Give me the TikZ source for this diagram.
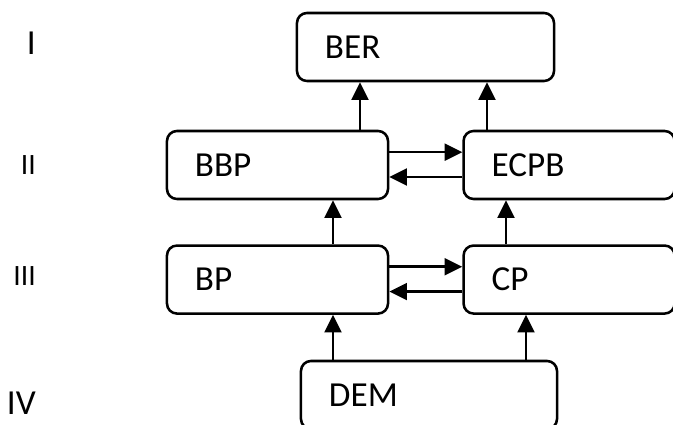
\documentclass[tikz,border=0pt]{standalone}
\usepackage{fontspec}
\setmainfont{Carlito}
\usetikzlibrary{arrows.meta, positioning}
\tikzset{block/.style={draw, rounded corners=0.25cm, minimum height=1.7cm, inner xsep=0.7cm, align=left, font=\fontsize{25}{30}\selectfont}}
\tikzset{level/.style={anchor=base east, inner sep=0pt, font=\fontsize{25}{30}\selectfont}}
\tikzset{sublevel/.style={level, font=\fontsize{21}{25}\selectfont}}

\begin{document}
\begin{tikzpicture}[x=0.025cm, y=-0.025cm, >={Triangle[length=0.44cm,width=0.42cm]}, line width=1.8pt]
\useasboundingbox (0,0) rectangle (673,425);
% levels
\node[level] (lI) at (37,55) {I};
\node[sublevel] (lII) at (37,175) {II};
\node[sublevel] (lIII) at (37,286) {III};
\node[level] (lIV) at (37,415) {IV};
% blocks
\node[block, text width=5.025cm] (ber) at (425.5,47) {BER};
\node[block, text width=4.125cm] (bbp) at (277.5,165) {BBP};
\node[block, text width=3.875cm, right=1.825cm of bbp] (ecpb) {ECPB};
\node[block, text width=4.125cm, below=1.1cm of bbp] (bp) {BP};
\node[block, text width=3.875cm, below=1.1cm of ecpb] (cp) {CP};
\node[block, text width=5cm] (dem) at (429,395) {DEM};
% columns of the vertical arrows
\coordinate (xa) at (360,0);
\coordinate (xb) at (487,0);
\coordinate (xc) at (333,0);
\coordinate (xd) at (506,0);
\coordinate (xe) at (526,0);
\draw[->] (bbp.north -| xa) -- (ber.south -| xa);
\draw[->] (ecpb.north -| xb) -- (ber.south -| xb);
\draw[->] (bp.north -| xc) -- (bbp.south -| xc);
\draw[->] (cp.north -| xd) -- (ecpb.south -| xd);
\draw[->] (dem.north -| xc) -- (bp.south -| xc);
\draw[->] (dem.north -| xe) -- (cp.south -| xe);
% exchange between the columns
\draw[->] ([yshift=0.32cm]bbp.east) -- ([yshift=0.32cm]ecpb.west);
\draw[->] ([yshift=-0.3cm]ecpb.west) -- ([yshift=-0.3cm]bbp.east);
\draw[->] ([yshift=0.32cm]bp.east) -- ([yshift=0.32cm]cp.west);
\draw[->] ([yshift=-0.3cm]cp.west) -- ([yshift=-0.3cm]bp.east);
\end{tikzpicture}
\end{document}
